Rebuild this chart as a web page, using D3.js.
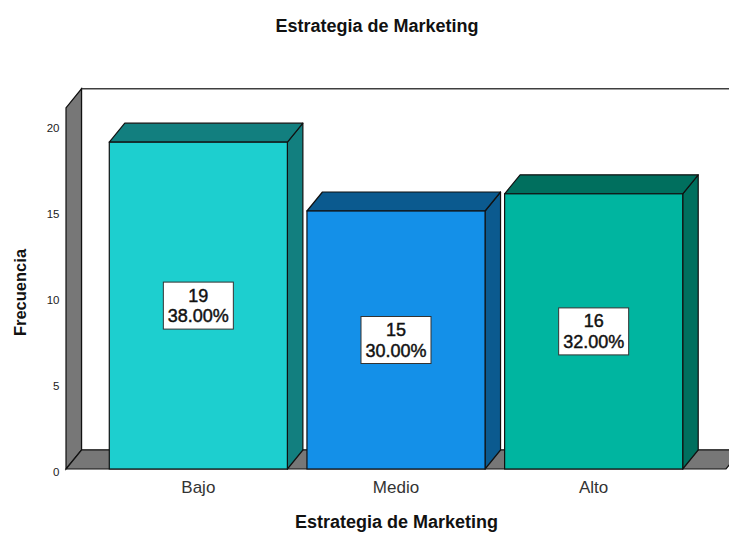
<!DOCTYPE html>
<html>
<head>
<meta charset="utf-8">
<script src="https://cdn.jsdelivr.net/npm/d3@7/dist/d3.min.js"></script>
<style>
  html, body { margin: 0; padding: 0; background: #fff; }
  svg { display: block; }
  text { font-family: "Liberation Sans", Arial, Helvetica, sans-serif; }
</style>
</head>
<body>
<svg id="chart" width="729" height="533"></svg>
<script>
// Frequency table: Estrategia de Marketing
const categories = ["Bajo", "Medio", "Alto"];
const counts = [19, 15, 16];
const yTicks = [0, 5, 10, 15, 20];
const frontColors = ["#1dcfcf", "#1490e8", "#00b5a0"];
const depthColors = ["#127f7f", "#0b5a8f", "#006f5e"];

const total = d3.sum(counts);
const svg = d3.select("#chart");

// 3D depth offset of the back plane
const dx = 15.5, dy = -19;

// Front plane scales
const x = d3.scaleBand()
  .domain(categories)
  .range([66, 726])
  .paddingInner(0.099)
  .paddingOuter(0.219);

const y = d3.scaleLinear()
  .domain([0, 21])
  .range([469, 107.8]);

const stroke = "#111";
const y0 = y(0), yTop = y(21);

// Back wall
const wallRight = 726 + dx;
svg.append("rect")
  .attr("x", 66 + dx).attr("y", yTop + dy)
  .attr("width", wallRight - (66 + dx)).attr("height", y0 - yTop)
  .attr("fill", "#fff").attr("stroke", stroke).attr("stroke-width", 1.2);

// Left side wall
svg.append("polygon")
  .attr("points", [[66, yTop], [66 + dx, yTop + dy], [66 + dx, y0 + dy], [66, y0]].join(" "))
  .attr("fill", "#777").attr("stroke", stroke).attr("stroke-width", 1.2);

// Floor
svg.append("polygon")
  .attr("points", [[66, y0], [66 + dx, y0 + dy], [726 + dx, y0 + dy], [726, y0]].join(" "))
  .attr("fill", "#777").attr("stroke", stroke).attr("stroke-width", 1.2);

// Y axis tick labels
svg.append("g").selectAll("text")
  .data(yTicks)
  .join("text")
  .attr("x", 59.5)
  .attr("y", d => y(d) + 6.5)
  .attr("text-anchor", "end")
  .attr("font-size", 11.5)
  .attr("fill", "#222")
  .text(d => d);

// Bars
const bars = svg.append("g").selectAll("g")
  .data(categories.map((c, i) => ({ c, v: counts[i], i })))
  .join("g");

// right side face
bars.append("polygon")
  .attr("points", d => {
    const x1 = x(d.c) + x.bandwidth(), yt = y(d.v);
    return [[x1, yt], [x1 + dx, yt + dy], [x1 + dx, y0 + dy], [x1, y0]].join(" ");
  })
  .attr("fill", d => depthColors[d.i]).attr("stroke", stroke).attr("stroke-width", 1.2)
  .attr("stroke-linejoin", "round");

// top face
bars.append("polygon")
  .attr("points", d => {
    const x0 = x(d.c), x1 = x0 + x.bandwidth(), yt = y(d.v);
    return [[x0, yt], [x0 + dx, yt + dy], [x1 + dx, yt + dy], [x1, yt]].join(" ");
  })
  .attr("fill", d => depthColors[d.i]).attr("stroke", stroke).attr("stroke-width", 1.2)
  .attr("stroke-linejoin", "round");

// front face
bars.append("rect")
  .attr("x", d => x(d.c))
  .attr("y", d => y(d.v))
  .attr("width", x.bandwidth())
  .attr("height", d => y0 - y(d.v))
  .attr("fill", d => frontColors[d.i]).attr("stroke", stroke).attr("stroke-width", 1.2);

// Value labels: count and percentage
const lbl = bars.append("g")
  .attr("transform", d => `translate(${x(d.c) + x.bandwidth() / 2},${(y(d.v) + y0) / 2})`);

lbl.append("rect")
  .attr("x", -35).attr("y", -23.5)
  .attr("width", 70).attr("height", 47)
  .attr("fill", "#fff").attr("stroke", "#333").attr("stroke-width", 1);

lbl.append("text")
  .attr("y", -4)
  .attr("text-anchor", "middle")
  .attr("font-size", 18)
  .attr("fill", "#111").attr("stroke", "#111").attr("stroke-width", 0.45)
  .text(d => d.v);

lbl.append("text")
  .attr("y", 16.5)
  .attr("text-anchor", "middle")
  .attr("font-size", 18)
  .attr("fill", "#111").attr("stroke", "#111").attr("stroke-width", 0.45)
  .text(d => (d.v / total * 100).toFixed(2) + "%");

// Category labels
svg.append("g").selectAll("text")
  .data(categories)
  .join("text")
  .attr("x", d => x(d) + x.bandwidth() / 2)
  .attr("y", 493)
  .attr("text-anchor", "middle")
  .attr("font-size", 17)
  .attr("fill", "#333")
  .text(d => d);

// Titles
svg.append("text")
  .attr("x", 377).attr("y", 31.5)
  .attr("text-anchor", "middle")
  .attr("font-size", 18).attr("font-weight", "bold")
  .attr("fill", "#111")
  .text("Estrategia de Marketing");

svg.append("text")
  .attr("x", 396.5).attr("y", 528)
  .attr("text-anchor", "middle")
  .attr("font-size", 18).attr("font-weight", "bold")
  .attr("fill", "#111")
  .text("Estrategia de Marketing");

svg.append("text")
  .attr("transform", "translate(26,292.5) rotate(-90)")
  .attr("text-anchor", "middle")
  .attr("font-size", 16.5).attr("font-weight", "bold")
  .attr("fill", "#111")
  .text("Frecuencia");
</script>
</body>
</html>
